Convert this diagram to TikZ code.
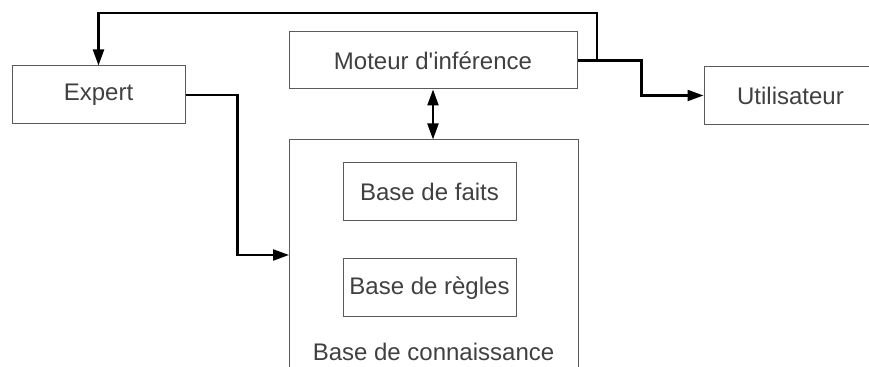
\documentclass[tikz,border=0pt]{standalone}
\usepackage{fontspec}
\setmainfont{Liberation Sans}
\usetikzlibrary{arrows.meta}
\definecolor{texte}{HTML}{404040}
\definecolor{bord}{HTML}{5A5A5A}
\tikzset{
  boite/.style={draw=bord,line width=0.5pt,text=texte,font=\fontsize{12}{14}\selectfont,
    minimum width=86.5pt,minimum height=29pt,inner sep=0pt},
  fleche/.style={line width=1.1pt,-{Triangle[length=8pt,width=5.5pt]}},
  double/.style={line width=1.1pt,{Triangle[length=8pt,width=5.5pt]}-{Triangle[length=8pt,width=5.5pt]}}
}
\begin{document}
\begin{tikzpicture}[x=0.5pt,y=-0.5pt]
            \useasboundingbox (0,0) rectangle (869,367);
            \node[boite] (expert) at (98.5,95) {Expert};
            \node[boite,minimum width=144pt,minimum height=28.5pt] (moteur) at (433,60.5) {Moteur d\textquotesingle inférence};
            \node[boite] (util) at (790.5,95.5) {Utilisateur};
            \node[boite,minimum width=144.5pt,minimum height=125pt] (connaissance) at (433.5,265) {};
            \node[boite] (faits) at (429.5,192) {Base de faits};
            \node[boite] (regles) at (429.5,288) {Base de règles};
            \node[text=texte,font=\fontsize{12}{14}\selectfont] (titre) at (433.5,352) {Base de connaissance};

            \coordinate (retour) at (597,13);
            \coordinate (entree) at (289,255);
            \draw[fleche] (moteur.east) -| (retour) -| (expert.north);
            \draw[fleche] (moteur.east) -- ++(64,0) |- (util.west);
            \draw[fleche] (expert.east) -- ++(52,0) |- (entree);
            \draw[double] (moteur.south) -- (moteur.south |- connaissance.north);
        \end{tikzpicture}
\end{document}
